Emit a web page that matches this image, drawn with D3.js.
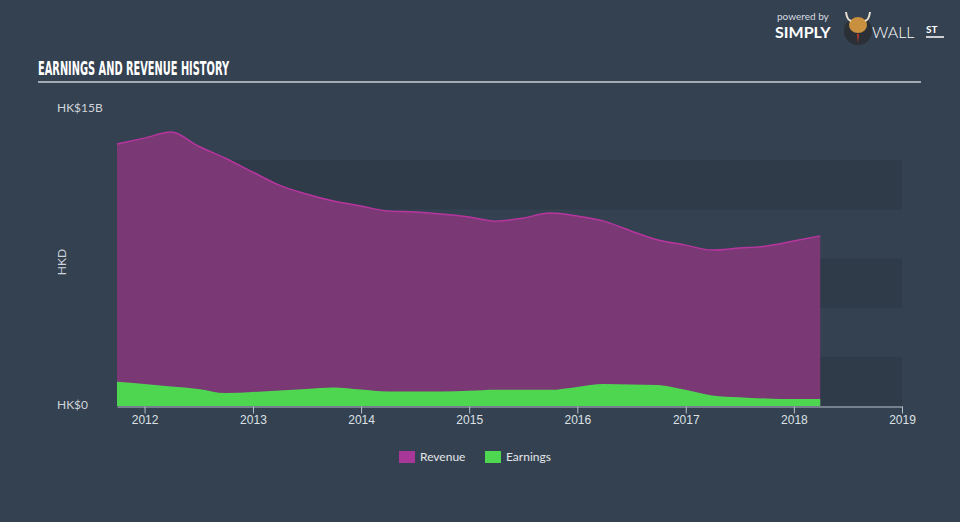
<!DOCTYPE html>
<html><head><meta charset="utf-8">
<script src="https://cdn.jsdelivr.net/npm/d3@7"></script>
<style>
html,body{margin:0;padding:0;background:#344150;}
svg{display:block;font-family:Lato,"Open Sans",sans-serif;}
</style></head>
<body><svg id="c" width="960" height="522"></svg>
<script>
const dates = ["2011-09-30","2011-12-31","2012-03-31","2012-06-30","2012-09-30","2012-12-31","2013-03-31","2013-06-30","2013-09-30","2013-12-31","2014-03-31","2014-06-30","2014-09-30","2014-12-31","2015-03-31","2015-06-30","2015-09-30","2015-12-31","2016-03-31","2016-06-30","2016-09-30","2016-12-31","2017-03-31","2017-06-30","2017-09-30","2017-12-31","2018-03-31"];
const revenue = [13.32,13.62,13.93,13.22,12.60,11.90,11.23,10.78,10.42,10.17,9.92,9.87,9.76,9.61,9.40,9.55,9.81,9.66,9.40,8.90,8.44,8.18,7.93,8.03,8.13,8.39,8.65];
const earnings = [1.23,1.12,0.99,0.87,0.66,0.71,0.79,0.87,0.94,0.84,0.74,0.74,0.74,0.77,0.82,0.82,0.82,0.97,1.12,1.09,1.07,0.82,0.54,0.45,0.38,0.35,0.35];
const yearTicks = [2012,2013,2014,2015,2016,2017,2018,2019];
const yLabels = ["HK$0","HK$15B"];
const legendItems = ["Revenue","Earnings"];

const svg = d3.select("#c");
const parse = d3.timeParse("%Y-%m-%d");
const data = dates.map((d,i)=>({date:parse(d), rev:revenue[i], earn:earnings[i]}));

const x = d3.scaleTime().domain([parse("2011-09-30"), new Date(2019,0,1)]).range([117,902]);
const y = d3.scaleLinear().domain([0,15]).range([406,111]);

// bands
const bands = [[0,2.5],[5,7.5],[10,12.5]];
svg.append("g").selectAll("rect").data(bands).join("rect")
  .attr("x",x.range()[0]).attr("width",x.range()[1]-x.range()[0])
  .attr("y",d=>y(d[1])).attr("height",d=>y(d[0])-y(d[1]))
  .attr("fill","#2f3b49");

const curve = d3.curveMonotoneX;
svg.append("path").datum(data)
  .attr("d", d3.area().x(d=>x(d.date)).y0(y(0)).y1(d=>y(d.rev)).curve(curve))
  .attr("fill","#7a3875");
svg.append("path").datum(data)
  .attr("d", d3.line().x(d=>x(d.date)).y(d=>y(d.rev)).curve(curve))
  .attr("fill","none").attr("stroke","#b8359f").attr("stroke-width",1.5);
svg.append("path").datum(data)
  .attr("d", d3.area().x(d=>x(d.date)).y0(y(0)).y1(d=>y(d.earn)).curve(curve))
  .attr("fill","#4fd651");

// x axis
const xAxis = d3.axisBottom(x).tickValues(yearTicks.map(t=>new Date(t,0,1)))
  .tickFormat(d3.timeFormat("%Y")).tickSize(7).tickSizeOuter(0);
const gx = svg.append("g").attr("transform",`translate(0,${y(0)+0.5})`).call(xAxis);
gx.select(".domain").attr("stroke","#b9c0c9");
gx.selectAll(".tick line").attr("stroke","#b9c0c9");
gx.selectAll(".tick text").attr("fill","#dde1e6").attr("font-size",12).attr("dy","0.6em");

// y labels
svg.append("g").selectAll("text").data(yLabels).join("text")
  .attr("x",57).attr("y",(d,i)=>i===0?y(0)-1:y(15)-3).attr("dy","0.35em")
  .attr("fill","#d0d4da").attr("font-size",12).text(d=>d);
svg.append("text").attr("transform","translate(66,262) rotate(-90)")
  .attr("text-anchor","middle").attr("fill","#d0d4da").attr("font-size",12).text("HKD");

// title
svg.append("text").attr("x",38).attr("y",74.5)
  .attr("font-family","'DejaVu Sans Condensed','Liberation Sans Narrow',sans-serif")
  .attr("font-weight","bold").attr("font-size",19).attr("fill","#ffffff")
  .attr("textLength",191).attr("lengthAdjust","spacingAndGlyphs")
  .text("EARNINGS AND REVENUE HISTORY");
svg.append("line").attr("x1",38).attr("x2",921).attr("y1",82).attr("y2",82)
  .attr("stroke","#a3aab4").attr("stroke-width",2);

// legend
const lcol = ["#a8379a","#4fd651"];
const lx = [399,485];
const lg = svg.append("g").selectAll("g").data(legendItems).join("g")
  .attr("transform",(d,i)=>`translate(${lx[i]},451)`);
lg.append("rect").attr("width",16).attr("height",12).attr("fill",(d,i)=>lcol[i]);
lg.append("text").attr("x",21).attr("y",6).attr("dy","0.35em").attr("fill","#e3e6ea")
  .attr("font-size",12).text(d=>d);

// logo
const logo = svg.append("g");
logo.append("text").attr("x",777).attr("y",20).attr("fill","#d7dbe0").attr("font-size",10).text("powered by");
logo.append("text").attr("x",775).attr("y",38).attr("fill","#ffffff").attr("font-size",16).attr("font-weight","bold").text("SIMPLY");
logo.append("circle").attr("cx",858).attr("cy",31).attr("r",14).attr("fill","#2b2f36");
logo.append("ellipse").attr("cx",858).attr("cy",25).attr("rx",9).attr("ry",8).attr("fill","#c9913f");
logo.append("path").attr("d","M846,12 Q847,20 851,21 M870,12 Q869,20 865,21").attr("stroke","#e8e0d0").attr("stroke-width",2).attr("fill","none");
logo.append("path").attr("d","M857,34 L859,34 L858,43 Z").attr("fill","#d0392b");
logo.append("text").attr("x",872).attr("y",38).attr("fill","#ffffff").attr("font-size",16).attr("font-weight","300").text("WALL");
logo.append("text").attr("x",926).attr("y",33).attr("fill","#ffffff").attr("font-size",10).attr("font-weight","bold").text("ST");
logo.append("line").attr("x1",926).attr("x2",944).attr("y1",37).attr("y2",37).attr("stroke","#fff").attr("stroke-width",1.5);
</script></body></html>
